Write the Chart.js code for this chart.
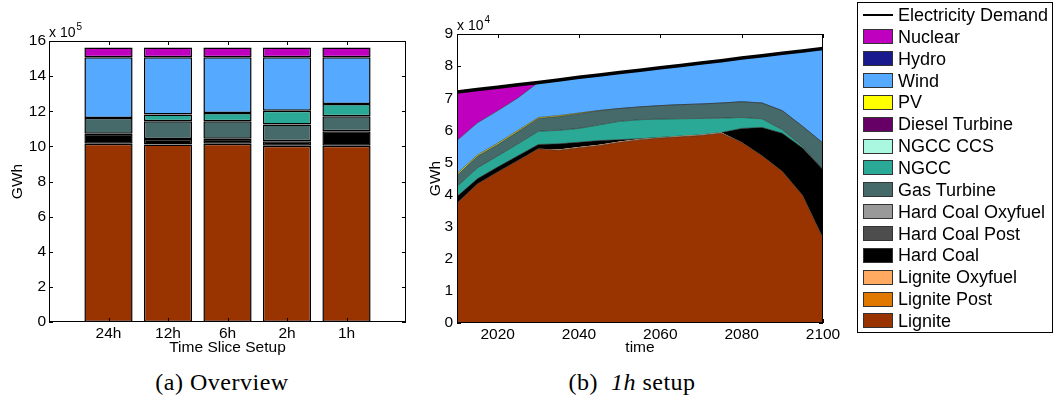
<!DOCTYPE html>
<html>
<head>
<meta charset="utf-8">
<script src="https://cdn.jsdelivr.net/npm/chart.js@4"></script>
<style>
  body { margin: 0; background: #fff; width: 1055px; height: 414px; overflow: hidden; position: relative;
         font-family: "Liberation Sans", Arial, sans-serif; }
  #chartA { position: absolute; left: 0; top: 0; }
  #chartB { position: absolute; left: 400px; top: 0; }
  #legend { position: absolute; left: 857px; top: 2px; width: 194px; height: 329px; border: 1px solid #000; }
  .row { position: absolute; left: 0; height: 22px; line-height: 22px; font-size: 18px; white-space: nowrap; }
  .sw { position: absolute; left: 5px; top: 3.5px; width: 28px; height: 13px; border: 1px solid #333; }
  .ln { position: absolute; left: 5px; top: 10px; width: 30px; height: 2px; background: #000; }
  .txt { position: absolute; left: 40px; top: 0; }
  .cap { position: absolute; top: 370px; line-height: 24px; font-family: "Liberation Serif", "Times New Roman", serif;
         font-size: 24px; letter-spacing: 0.5px; white-space: nowrap; transform: translateX(-50%); }
</style>
</head>
<body>
<canvas id="chartA" width="420" height="360"></canvas>
<canvas id="chartB" width="450" height="360"></canvas>
<div id="legend"></div>
<div class="cap" style="left:222px">(a) Overview</div>
<div class="cap" style="left:632px">(b)&nbsp; <i>1h</i> setup</div>

<script>
// (a) overview, one bar per time slice setup, values in 1e5 GWh
const sliceLabels = ['24h', '12h', '6h', '2h', '1h'];
const sliceLignite    = [10.15, 10.10, 10.15, 10.04, 10.04];
const sliceHardCoal   = [0.57, 0.32, 0.29, 0.25, 0.82];
const sliceGasTurbine = [0.90, 1.01, 0.99, 0.96, 0.85];
const sliceNGCC       = [0.00, 0.38, 0.47, 0.78, 0.70];
const sliceWind       = [3.46, 3.27, 3.18, 3.05, 2.67];
const sliceNuclear    = [0.55, 0.55, 0.55, 0.55, 0.55];

// (b) 1h setup over time, values in 1e4 GWh
const years = [2010, 2015, 2020, 2025, 2030, 2035, 2040, 2045, 2050, 2055,
               2060, 2065, 2070, 2075, 2080, 2085, 2090, 2095, 2100];
const yrLignite    = [3.73, 4.33, 4.70, 5.06, 5.43, 5.38, 5.46, 5.53, 5.63, 5.71,
                      5.76, 5.80, 5.84, 5.91, 5.63, 5.21, 4.72, 3.97, 2.64];
const yrLigniteOxy = [0, 0, 0, 0, 0, 0.02, 0.02, 0.02, 0.02, 0.02,
                      0.02, 0.02, 0.02, 0.02, 0, 0, 0, 0, 0];
const yrHardCoal   = [0.21, 0.16, 0.16, 0.15, 0.13, 0.18, 0.15, 0.13, 0.06, 0.01,
                      0, 0, 0, 0, 0.43, 0.88, 1.19, 1.48, 2.13];
const yrNGCC       = [0.31, 0.34, 0.34, 0.37, 0.41, 0.42, 0.43, 0.49, 0.57, 0.59,
                      0.57, 0.54, 0.51, 0.45, 0.34, 0.27, 0.11, 0.05, 0];
const yrGasTurbine = [0.35, 0.36, 0.36, 0.38, 0.40, 0.43, 0.46, 0.44, 0.40, 0.40,
                      0.42, 0.44, 0.45, 0.47, 0.49, 0.49, 0.59, 0.62, 0.83];
const yrPV         = [0.05, 0.04, 0.04, 0.04, 0.03, 0.03, 0.02, 0.01, 0, 0,
                      0, 0, 0, 0, 0, 0, 0, 0, 0];
const yrWind       = [1.03, 1.00, 1.01, 1.01, 1.09, 1.11, 1.11, 1.10, 1.12, 1.14,
                      1.18, 1.22, 1.28, 1.32, 1.36, 1.47, 1.79, 2.35, 2.95];
const yrNuclear    = [1.51, 1.04, 0.74, 0.41, 0, 0, 0, 0, 0, 0,
                      0, 0, 0, 0, 0, 0, 0, 0, 0];
const yrDemand     = [7.19, 7.27, 7.34, 7.42, 7.49, 7.57, 7.65, 7.72, 7.80, 7.87,
                      7.95, 8.02, 8.10, 8.17, 8.25, 8.32, 8.40, 8.47, 8.55];
const yearTicks = [2020, 2040, 2060, 2080, 2100];

// legend, top to bottom
const techNames = ['Nuclear', 'Hydro', 'Wind', 'PV', 'Diesel Turbine', 'NGCC CCS', 'NGCC',
  'Gas Turbine', 'Hard Coal Oxyfuel', 'Hard Coal Post', 'Hard Coal', 'Lignite Oxyfuel',
  'Lignite Post', 'Lignite'];
const techColors = ['#bf00bf', '#1a1a8f', '#55aaff', '#ffff00', '#660066', '#aaf8e0', '#2aaa96',
  '#466a6a', '#999999', '#4d4d4d', '#000000', '#ffaa60', '#e07800', '#993300'];

const col = name => techColors[techNames.indexOf(name)];

Chart.defaults.font.family = '"Liberation Sans", Arial, sans-serif';
Chart.defaults.color = '#000';

// matlab-like box, inward ticks and the "x 10^n" multiplier
function drawTicks(chart, opts) {
  const {ctx, chartArea: a, scales: {x, y}} = chart;
  const L = 4;
  ctx.save();
  ctx.strokeStyle = '#000';
  ctx.lineWidth = 1;
  ctx.beginPath();
  opts.xTicks.forEach(v => {
    const px = Math.round(x.getPixelForValue(v)) + 0.5;
    ctx.moveTo(px, a.top); ctx.lineTo(px, a.top + L);
    ctx.moveTo(px, a.bottom); ctx.lineTo(px, a.bottom - L);
  });
  y.ticks.forEach(t => {
    const py = Math.round(y.getPixelForValue(t.value)) + 0.5;
    ctx.moveTo(a.left, py); ctx.lineTo(a.left + L, py);
    ctx.moveTo(a.right, py); ctx.lineTo(a.right - L, py);
  });
  ctx.stroke();
  ctx.restore();
}

const matlabAxes = {
  id: 'matlabAxes',
  beforeDatasetsDraw(chart, args, opts) {
    if (!opts.ticksOnTop) drawTicks(chart, opts);
  },
  afterDatasetsDraw(chart, args, opts) {
    const {ctx, chartArea: a} = chart;
    if (opts.ticksOnTop) drawTicks(chart, opts);
    ctx.save();
    ctx.strokeStyle = '#000';
    ctx.lineWidth = 1;
    ctx.strokeRect(a.left + 0.5, a.top + 0.5, a.right - a.left - 1, a.bottom - a.top - 1);
    ctx.fillStyle = '#000';
    ctx.textBaseline = 'alphabetic';
    ctx.font = '14px "Liberation Sans", Arial, sans-serif';
    ctx.fillText('x 10', a.left, a.top - 4);
    const w = ctx.measureText('x 10').width;
    ctx.font = '10px "Liberation Sans", Arial, sans-serif';
    ctx.fillText(opts.exponent, a.left + w + 1, a.top - 11);
    ctx.restore();
  }
};

const tickFont = {size: 15.5};
const titleFont = {size: 15.5};

// ---------- (a) bars ----------
const pad = arr => [null, ...arr, null];
const barSets = [
  ['Lignite', sliceLignite],
  ['Hard Coal', sliceHardCoal],
  ['Gas Turbine', sliceGasTurbine],
  ['NGCC', sliceNGCC],
  ['Wind', sliceWind],
  ['Nuclear', sliceNuclear]
].map(([name, vals]) => ({
  label: name,
  data: pad(vals),
  backgroundColor: col(name),
  borderColor: '#000',
  borderWidth: 1.5,
  borderSkipped: false,
  categoryPercentage: 1,
  barPercentage: 0.81
}));

new Chart(document.getElementById('chartA'), {
  type: 'bar',
  data: {labels: ['', ...sliceLabels, ''], datasets: barSets},
  options: {
    responsive: false,
    animation: false,
    devicePixelRatio: 1,
    layout: {padding: {top: 41, right: 14, bottom: 0, left: 0}},
    plugins: {
      legend: {display: false},
      tooltip: {enabled: false},
      matlabAxes: {exponent: '5', xTicks: sliceLabels.map((_, i) => i + 1), ticksOnTop: true}
    },
    scales: {
      x: {
        stacked: true,
        offset: false,
        grid: {display: false, drawTicks: false},
        border: {display: false},
        ticks: {font: tickFont, padding: 2, autoSkip: false, maxRotation: 0},
        title: {display: true, text: 'Time Slice Setup', font: titleFont, padding: {top: 0, bottom: 3}},
        afterFit: s => { s.height = 38; }
      },
      y: {
        stacked: true,
        min: 0, max: 16,
        grid: {display: false, drawTicks: false},
        border: {display: false},
        ticks: {font: tickFont, padding: 3, stepSize: 2},
        title: {display: true, text: 'GWh', font: titleFont, padding: {top: 8, bottom: 0}},
        afterFit: s => { s.width = 49; }
      }
    }
  },
  plugins: [matlabAxes]
});

// ---------- (b) stacked areas ----------
const pts = arr => years.map((yr, i) => ({x: yr, y: arr[i]}));
const areaSets = [
  ['Lignite', yrLignite, 0.6],
  ['Lignite Oxyfuel', yrLigniteOxy, 0],
  ['Hard Coal', yrHardCoal, 0.6],
  ['NGCC', yrNGCC, 0.6],
  ['Gas Turbine', yrGasTurbine, 0.6],
  ['PV', yrPV, 0.6],
  ['Wind', yrWind, 0.6],
  ['Nuclear', yrNuclear, 0.6]
].map(([name, vals, bw], i) => ({
  label: name,
  data: pts(vals),
  backgroundColor: col(name),
  borderColor: '#2a2a2a',
  borderWidth: bw,
  fill: i === 0 ? 'origin' : '-1',
  pointRadius: 0,
  tension: 0,
  stack: 'gen'
}));

new Chart(document.getElementById('chartB'), {
  type: 'line',
  data: {
    datasets: [{
      label: 'Electricity Demand',
      data: pts(yrDemand),
      borderColor: '#000',
      borderWidth: 3.5,
      fill: false,
      pointRadius: 0,
      stack: 'demand'
    }, ...areaSets]
  },
  options: {
    responsive: false,
    animation: false,
    devicePixelRatio: 1,
    layout: {padding: {top: 34, right: 27, bottom: 0, left: 0}},
    plugins: {
      legend: {display: false},
      tooltip: {enabled: false},
      matlabAxes: {exponent: '4', xTicks: yearTicks, ticksOnTop: false}
    },
    scales: {
      x: {
        type: 'linear',
        min: 2010, max: 2100,
        grid: {display: false, drawTicks: false},
        border: {display: false},
        ticks: {font: tickFont, padding: 2, callback: v => String(v)},
        afterBuildTicks: s => { s.ticks = yearTicks.map(v => ({value: v})); },
        title: {display: true, text: 'time', font: titleFont, padding: {top: 0, bottom: 3}},
        afterFit: s => { s.height = 37; }
      },
      y: {
        stacked: true,
        min: 0, max: 9,
        grid: {display: false, drawTicks: false},
        border: {display: false},
        ticks: {font: tickFont, padding: 4, stepSize: 1},
        title: {display: true, text: 'GWh', font: titleFont, padding: {top: 26, bottom: 0}},
        afterFit: s => { s.width = 57; }
      }
    }
  },
  plugins: [matlabAxes]
});

// ---------- legend ----------
const legend = document.getElementById('legend');
const rows = ['Electricity Demand', ...techNames];
rows.forEach((name, i) => {
  const row = document.createElement('div');
  row.className = 'row';
  row.style.top = (1 + i * 21.85) + 'px';
  const mark = document.createElement('div');
  if (i === 0) {
    mark.className = 'ln';
  } else {
    mark.className = 'sw';
    mark.style.background = techColors[i - 1];
  }
  const txt = document.createElement('span');
  txt.className = 'txt';
  txt.textContent = name;
  row.appendChild(mark);
  row.appendChild(txt);
  legend.appendChild(row);
});
</script>
</body>
</html>
